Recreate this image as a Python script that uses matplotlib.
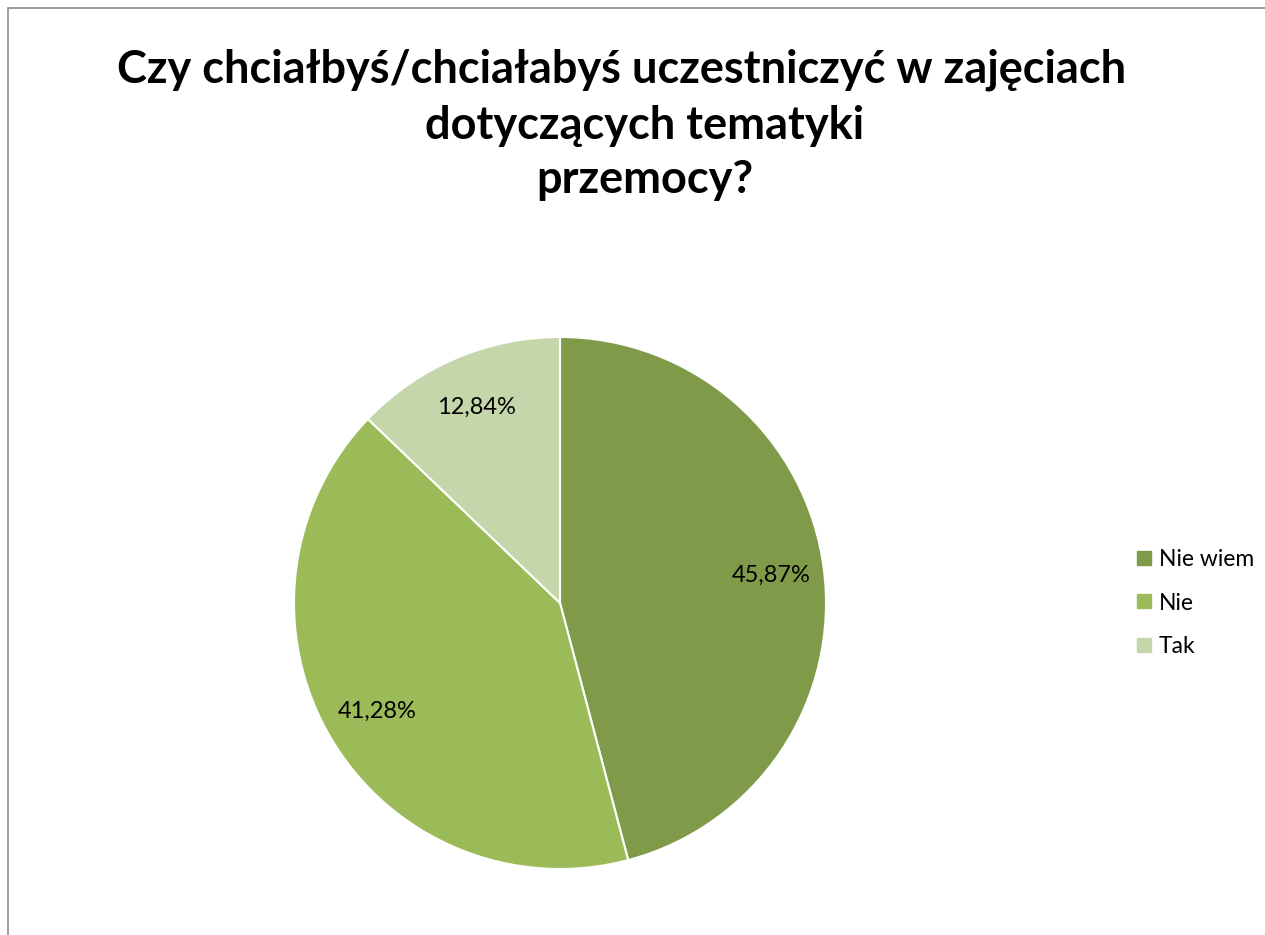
import numpy as np
import matplotlib.pyplot as plt
from matplotlib.patches import Rectangle
from matplotlib.lines import Line2D

labels = ['Nie wiem', 'Nie', 'Tak']
values = [45.87, 41.28, 12.84]
colors = ['#7F9B4A', '#9BBB59', '#C4D6AA']
title_lines = ['Czy chciałbyś/chciałabyś uczestniczyć w zajęciach',
               'dotyczących tematyki',
               'przemocy?']

fig = plt.figure(figsize=(12.65, 9.35), dpi=100)

# chart border
fig.patches.append(Rectangle((8 / 1265, -0.05), 1.1, 1.05 - 8 / 935,
                             transform=fig.transFigure, fill=False,
                             edgecolor='#8C8C8C', linewidth=1.2))

# title lines, centred one by one like the original
for line, xc, yc in zip(title_lines, [622, 645, 645], [70, 126, 180]):
    fig.text(xc / 1265, 1 - yc / 935, line, ha='center', va='center',
             fontsize=32.5, fontweight='bold', family='Lato')

ax = fig.add_axes([(560 - 266) / 1265, (935 - 869) / 935, 532 / 1265, 532 / 935])
wedges, texts = ax.pie(values, colors=colors, startangle=90, counterclock=False,
                       wedgeprops=dict(edgecolor='white', linewidth=1.5))
ax.set_xlim(-1, 1)
ax.set_ylim(-1, 1)
ax.set_aspect('equal')
for w, v in zip(wedges, values):
    ang = np.deg2rad((w.theta1 + w.theta2) / 2)
    ax.text(0.8 * np.cos(ang), 0.8 * np.sin(ang), f'{v:.2f}%'.replace('.', ','),
            ha='center', va='center', fontsize=17, family='Lato')

handles = [Line2D([], [], marker='s', linestyle='none', markersize=10,
                  markerfacecolor=c, markeredgecolor=c) for c in colors]
fig.legend(handles, labels, loc='center left', bbox_to_anchor=(1112 / 1265, (935 - 603) / 935),
           frameon=False, prop=dict(family='Lato', size=16.5), handletextpad=0.15,
           labelspacing=1.0, handlelength=1.0)

fig.savefig('out.png', dpi=100)
